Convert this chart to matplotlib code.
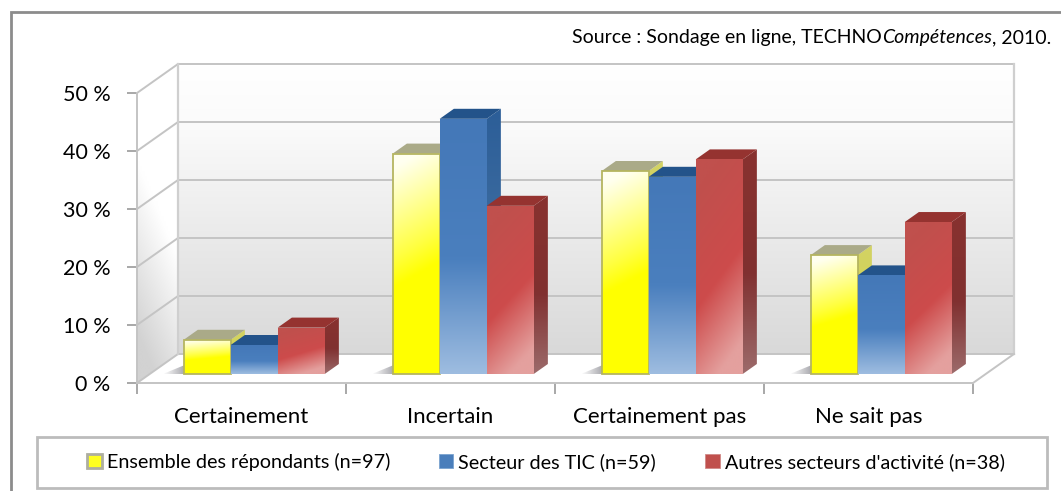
import numpy as np
import matplotlib
matplotlib.use("Agg")
import matplotlib.pyplot as plt
from matplotlib.patches import Polygon, Rectangle, Patch
from matplotlib.colors import to_rgb

categories = ["Certainement", "Incertain", "Certainement pas", "Ne sait pas"]
series_names = ["Ensemble des répondants (n=97)", "Secteur des TIC (n=59)", "Autres secteurs d'activité (n=38)"]
ensemble = [5.9, 38, 35, 20.5]
tic = [5, 44, 34, 17]
autres = [8, 29, 37, 26.2]
y_ticks = [0, 10, 20, 30, 40, 50]
y_labels = ["0 %", "10 %", "20 %", "30 %", "40 %", "50 %"]

W, H = 1061, 491
plt.rcParams['font.family'] = ['Lato', 'DejaVu Sans']
fig = plt.figure(figsize=(W / 100, H / 100), dpi=100, facecolor='white')

L, R, B, T = 137, 973, 383, 93
ax = fig.add_axes([L / W, 1 - B / H, (R - L) / W, (B - T) / H])
ax.set_facecolor('none')
DX = 41 / (R - L) * 4   # depth 1 in category units
DY = 5.0                # depth 1 in value units


def P(x, y, d=0.0):
    return (x + d * DX, y + d * DY)


def grad(poly, stops, tilt=0.0, z=1, alpha_h=None):
    """Fill polygon with a vertical gradient (stops: (t, colour); t=0 at top)."""
    pts = np.array(poly)
    x0, x1, y0, y1 = pts[:, 0].min(), pts[:, 0].max(), pts[:, 1].min(), pts[:, 1].max()
    n = 64
    yy, xx = np.mgrid[0:1:n * 1j, 0:1:n * 1j]
    t = np.clip(yy + tilt * (xx - 0.5), 0, 1)
    ts = [s[0] for s in stops]
    cs = np.array([to_rgb(s[1]) for s in stops])
    arr = np.dstack([np.interp(t, ts, cs[:, i]) for i in range(3)])
    if alpha_h is not None:
        arr = np.dstack([arr, np.interp(xx, [0, 1], alpha_h)])
    im = ax.imshow(arr, extent=(x0, x1, y0, y1), origin='upper', aspect='auto',
                   zorder=z, interpolation='bilinear')
    clip = Polygon(poly, closed=True, transform=ax.transData, fc='none', ec='none')
    ax.add_patch(clip)
    clip.set_clip_on(False)
    im.set_clip_path(clip)
    im.set_clip_box(fig.bbox)
    return im


GRID = '#c4c4c4'
# walls
back = [P(0, 0, 1), P(4, 0, 1), P(4, 50, 1), P(0, 50, 1)]
grad(back, [(0, '#ffffff'), (0.2, '#fbfbfb'), (1, '#d9d9d9')], z=1)
left = [P(0, 0, 0), P(0, 0, 1), P(0, 50, 1), P(0, 50, 0)]
grad(left, [(0, '#ffffff'), (0.45, '#ffffff'), (1, '#d2d2d2')], tilt=-0.3, z=1)

for v in y_ticks:
    a, b, c = P(0, v, 0), P(0, v, 1), P(4, v, 1)
    ax.plot([a[0], b[0], c[0]], [a[1], b[1], c[1]], color=GRID, lw=1.4, zorder=2,
            clip_on=False, solid_joinstyle='miter')
a, b = P(0, 50, 1), P(0, 0, 1)
ax.plot([a[0], b[0]], [a[1], b[1]], color='#cfcfcf', lw=1.6, zorder=2, clip_on=False)
a, b = P(4, 50, 1), P(4, 0, 1)
ax.plot([a[0], b[0]], [a[1], b[1]], color='#cfcfcf', lw=1.6, zorder=2, clip_on=False)
a, b = P(4, 0, 0), P(4, 0, 1)
ax.plot([a[0], b[0]], [a[1], b[1]], color=GRID, lw=1.4, zorder=2, clip_on=False)

# bars
BW = 47 / (R - L) * 4
GAP = 34 / (R - L) * 4
D0, D1 = 9 / 29, 19 / 29
styles = [
    dict(front=[(0, '#fffff0'), (0.42, '#ffff40'), (0.55, '#ffff00'), (1, '#ffff00')], tilt=0.12,
         top='#aaaa88', side=[(0, '#d2d264'), (1, '#d8d840')], edge='#b5b560'),
    dict(front=[(0, '#4478b8'), (0.55, '#4a7fbe'), (1, '#9dbce0')], tilt=0.0,
         top='#23538a', side=[(0, '#2c5e98'), (1, '#4e7aa8')], edge='none'),
    dict(front=[(0, '#c0504d'), (0.55, '#cd4b4b'), (1, '#e4a09e')], tilt=0.3,
         top='#953330', side=[(0, '#88322f'), (0.55, '#803030'), (1, '#9c6a6a')], edge='none'),
]
for g in range(len(categories)):
    gx = g + GAP
    # soft shadow left of the first bar
    sx = gx - 0.10
    shadow = [P(sx, 0, D0), P(gx, 0, D0), P(gx, 0, D0 + 0.42), P(sx + 0.06, 0, D0 + 0.42)]
    grad(shadow, [(0, '#5a5a64'), (1, '#5a5a64')], z=3, alpha_h=[0.0, 0.95])
    for s, (vals, st) in enumerate(zip([ensemble, tic, autres], styles)):
        v = vals[g]
        x0, x1 = gx + s * BW, gx + (s + 1) * BW
        z = 4 + s * 3 + g * 10
        side = [P(x1, 0, D0), P(x1, 0, D1), P(x1, v, D1), P(x1, v, D0)]
        grad(side, st['side'], z=z)
        ax.add_patch(Polygon([P(x0, v, D0), P(x1, v, D0), P(x1, v, D1), P(x0, v, D1)],
                             closed=True, fc=st['top'], ec='none', zorder=z + 1))
        front = [P(x0, 0, D0), P(x1, 0, D0), P(x1, v, D0), P(x0, v, D0)]
        grad(front, st['front'], tilt=st['tilt'], z=z + 2)
        if st['edge'] != 'none':
            ax.add_patch(Polygon(front, closed=True, fc='none', ec=st['edge'], lw=1.3, zorder=z + 2.5))

ax.set_xlim(0, 4)
ax.set_ylim(0, 50)
for sp in ['top', 'right']:
    ax.spines[sp].set_visible(False)
for sp in ['left', 'bottom']:
    ax.spines[sp].set_color('#c4c4c4')
    ax.spines[sp].set_linewidth(1.4)
    ax.spines[sp].set_zorder(3)
ax.set_yticks(y_ticks, y_labels, fontsize=15.5, color='black')
ax.tick_params(axis='y', length=7, width=1.4, color='#a8a8a8', pad=12)
ax.set_xticks(range(5), [''] * 5)
ax.tick_params(axis='x', which='major', length=8, width=1.4, color='#a8a8a8')
ax.set_xticks(np.arange(len(categories)) + 0.5, categories, minor=True, fontsize=16)
ax.tick_params(axis='x', which='minor', length=0, pad=17)

# outer frame: left and top only reach the image edge
fig.add_artist(Rectangle((11 / W, -0.02), 1.1, 1 - 12 / H + 0.02, transform=fig.transFigure,
                         fc='none', ec='#8c8c8c', lw=2.0, zorder=-5))
# legend box
fig.add_artist(Rectangle((37 / W, 1 - 488 / H), 1010 / W, 51 / H, transform=fig.transFigure,
                         fc='white', ec='#bcbcbc', lw=2.0, zorder=5))
handles = [Patch(fc='#ffff20', ec='#aeaea0', lw=2.0), Patch(fc='#4a7ebb', ec='#7ba3d0', lw=0.6),
           Patch(fc='#c0504d', ec='#d08a88', lw=0.6)]
leg = fig.legend(handles, series_names, ncol=3, loc='center', frameon=False,
                 bbox_to_anchor=(546 / W, 1 - 462 / H), fontsize=14.2,
                 handlelength=0.72, handleheight=0.72, handletextpad=0.25, columnspacing=2.5,
                 borderpad=0, borderaxespad=0)
leg.set_zorder(6)

# source line, with the italic part in the middle
renderer = fig.canvas.get_renderer()
parts = [("Source : Sondage en ligne, TECHNO", 'normal'), ("Compétences", 'italic'), (", 2010.", 'normal')]
xpos = 572
for txt, sty in parts:
    t = fig.text(xpos / W, 1 - 43 / H, txt, style=sty, fontsize=14, color='black', ha='left', va='baseline')
    xpos = t.get_window_extent(renderer).x1

fig.savefig('out.png', dpi=100)
